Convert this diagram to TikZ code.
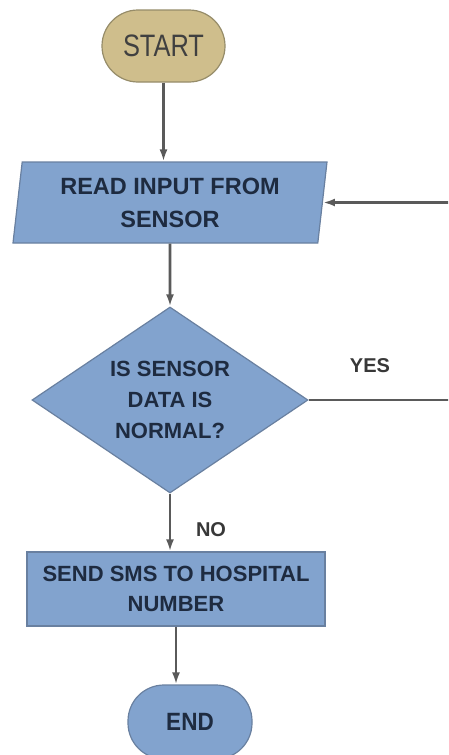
\documentclass[tikz,border=0pt]{standalone}
\usepackage{fontspec}
\setmainfont{Liberation Sans}
\newfontfamily\narrowfont{Liberation Sans}[FakeStretch=0.82]
\newfontfamily\narrowboldfont{Liberation Sans Bold}[FakeStretch=0.9]
\usetikzlibrary{shapes.geometric,arrows.meta}
\definecolor{boxblue}{RGB}{130,163,206}
\definecolor{boxedge}{RGB}{105,128,160}
\definecolor{startfill}{RGB}{207,190,140}
\definecolor{startedge}{RGB}{150,140,105}
\definecolor{boxtext}{RGB}{30,43,64}
\definecolor{linegrey}{RGB}{90,90,90}
\tikzset{
  flowbox/.style={draw=boxedge, line width=1.2pt, fill=boxblue, text=boxtext, align=center,
    font=\bfseries\fontsize{22}{31}\selectfont, inner sep=0pt},
  terminal/.style={draw=startedge, line width=1.2pt, fill=startfill, rounded corners=36pt,
    minimum width=123pt, minimum height=72pt, inner sep=0pt},
  flowarrow/.style={draw=linegrey, line width=2.6pt, -{Latex[length=12pt,width=8pt]}},
  flowlabel/.style={font=\bfseries\fontsize{20}{24}\selectfont, text=black!78}
}
\begin{document}
\begin{tikzpicture}[x=1pt,y=-1pt]
  \useasboundingbox[fill=white] (0,0) rectangle (448,755);
  \clip (0,0) rectangle (448,755);
  % nodes
  \node[terminal, text=black!75, font=\narrowfont\fontsize{31}{31}\selectfont] (start) at (163.5,46) {START};
  \node[flowbox, trapezium, trapezium left angle=79.5, trapezium right angle=100.5,
    trapezium stretches body, minimum width=314pt, minimum height=81pt,
    font=\bfseries\fontsize{23.5}{33}\selectfont] (read) at (170,202.5) {READ INPUT FROM\\SENSOR};
  \node[flowbox, diamond, aspect=1.48, minimum width=276pt, minimum height=186pt] (dec) at (170,400)
    {IS SENSOR\\DATA IS\\NORMAL?};
  \node[flowbox, rectangle, minimum width=298pt, minimum height=74pt,
    font=\bfseries\fontsize{22}{30}\selectfont] (send) at (176,589) {SEND SMS TO HOSPITAL\\NUMBER};
  \node[terminal, draw=boxedge, fill=boxblue, text=boxtext, minimum width=124pt, minimum height=74pt,
    font=\narrowboldfont\fontsize{25}{25}\selectfont] (endn) at (190,722) {END};
  \node[flowlabel] (yes) at (370,366) {YES};
  \node[flowlabel] (no) at (211,530) {NO};
  \coordinate (loop) at (470,400);
  % connectors
  \draw[flowarrow] (start) -- (start |- read.north);
  \draw[flowarrow] (read.south) -- (dec.north);
  \draw[flowarrow] (dec.south) -- (dec |- send.north);
  \draw[flowarrow] (send.south) -- (send |- endn.north);
  \draw[flowarrow] (dec.east) -- (loop) |- (read.east);
\end{tikzpicture}
\end{document}
